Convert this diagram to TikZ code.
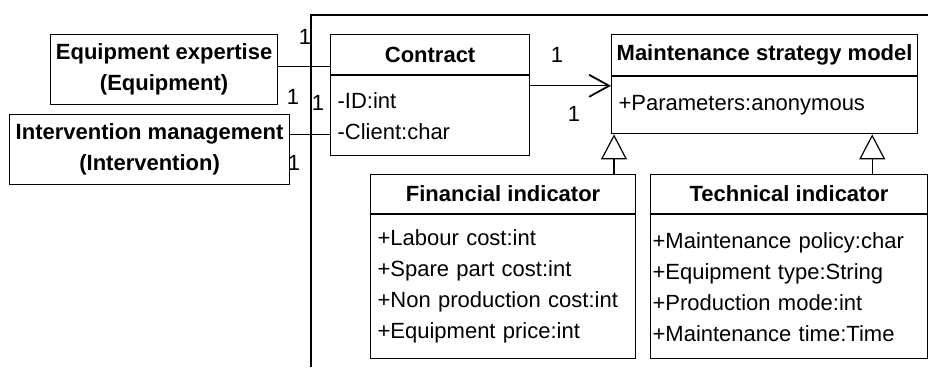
\documentclass[tikz,border=0pt]{standalone}
\usepackage{fontspec}
\setmainfont{Liberation Sans}
\usepackage{tikz}
\usetikzlibrary{shapes, arrows.meta, positioning}
\tikzstyle{assoc} = [line width=1.2pt, -{Straight Barb[length=20pt, width=22pt, line width=1.8pt]}]
\tikzstyle{inherit} = [line width=1.2pt, -{Triangle[open, length=25pt, width=26pt]}]
\tikzstyle{wire} = [line width=1.2pt]
\tikzstyle{actor} = [rectangle, draw=black, line width=1.2pt, inner sep=0pt, minimum height=70pt, align=center, font=\bfseries\fontsize{22}{31}\selectfont]
\tikzstyle{classhead} = [rectangle, draw=black, line width=1.2pt, inner sep=0pt, text centered, font=\bfseries\fontsize{22}{31}\selectfont]
\tikzstyle{classbody} = [rectangle, draw=black, line width=1.2pt, inner xsep=7pt, inner ysep=0pt, align=left, font=\fontsize{22}{31}\selectfont]
\tikzstyle{mult} = [inner sep=0pt, font=\fontsize{22}{26}\selectfont]

\begin{document}
\begin{tikzpicture}[x=1pt, y=-1pt]
				\useasboundingbox (0,0) rectangle (928,367);
				%frame
				\draw [wire] (311,367) -- (311,15) -- (928,15);
				
				%\node(label)[type]{name}
				\node(equip)[actor, minimum width=227pt, anchor=north west] at (50,34) {Equipment expertise\\(Equipment)};
				\node(inter)[actor, minimum width=280pt, anchor=north west] at (9,114) {Intervention management\\(Intervention)};
				
				\node(contracthead)[classhead, minimum width=199pt, minimum height=40pt, anchor=north west] at (330,34) {Contract};
				\node(contractbody)[classbody, below=0pt of contracthead, text width=185pt, minimum height=80pt]{-ID:int\\-Client:char};
				
				\node(strategyhead)[classhead, minimum width=306pt, minimum height=41pt, anchor=north west] at (611,34) {Maintenance strategy model};
				\node(strategybody)[classbody, below=0pt of strategyhead, text width=292pt, minimum height=57pt]{+Parameters:anonymous};
				
				\node(finhead)[classhead, minimum width=265pt, minimum height=39pt, anchor=north west] at (370,174) {Financial indicator};
				\node(finbody)[classbody, below=0pt of finhead, text width=251pt, minimum height=144pt]{+Labour cost:int\\+Spare part cost:int\\+Non production cost:int\\+Equipment price:int};
				
				\node(techhead)[classhead, minimum width=277pt, minimum height=39pt, anchor=north west] at (650,174) {Technical indicator};
				\node(techbody)[classbody, below=0pt of techhead, inner xsep=2pt, text width=273pt, minimum height=144pt]{+Maintenance policy:char\\+Equipment type:String\\+Production mode:int\\+Maintenance time:Time};
				
				%multiplicities
				\node(m1)[mult] at (305,37) {1};
				\node(m2)[mult] at (293,97) {1};
				\node(m3)[mult] at (318,103) {1};
				\node(m4)[mult] at (294,163) {1};
				\node(m5)[mult] at (557,55) {1};
				\node(m6)[mult] at (574,114) {1};
				
				%arrows
					\draw [wire] ([yshift=3pt]equip.east) -- ([yshift=3pt]equip.east -| contracthead.west);
					\draw [wire] ([yshift=15pt]inter.east) -- ([yshift=15pt]inter.east -| contractbody.west);
					\draw [assoc] ([yshift=30pt]contractbody.east) -- ([yshift=30pt]contractbody.east -| strategybody.west);
					\draw [inherit] ([xshift=3pt]strategybody.south west |- finhead.north) -- ([xshift=3pt]strategybody.south west);
					\draw [inherit] ([xshift=-46pt]strategybody.south east |- techhead.north) -- ([xshift=-46pt]strategybody.south east);
\end{tikzpicture}
\end{document}
